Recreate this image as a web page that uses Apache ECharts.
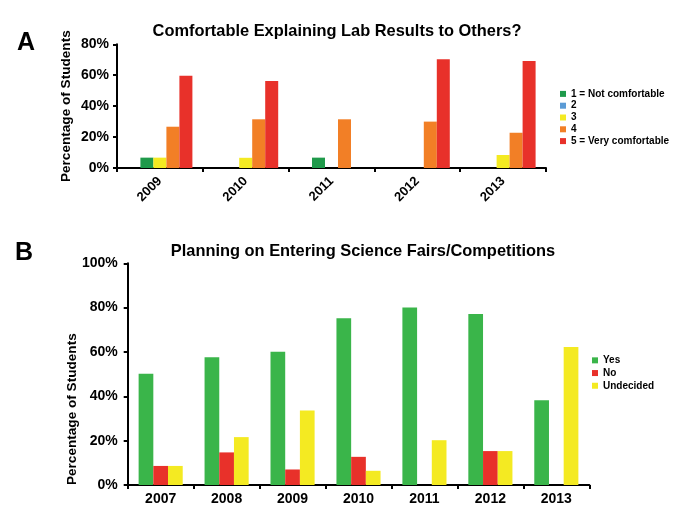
<!DOCTYPE html>
<html><head><meta charset="utf-8">
<script src="https://cdn.jsdelivr.net/npm/echarts@6/dist/echarts.min.js"></script>
<style>html,body{margin:0;padding:0;background:#fff}#c{width:684px;height:515px}</style>
</head><body><div id="c"></div>
<script>
// Chart A data
const yearsA = ['2009','2010','2011','2012','2013'];
const a1 = [6.7, 0, 6.7, 0, 0];        // 1 = Not comfortable
const a2 = [0, 0, 0, 0, 0];            // 2
const a3 = [6.7, 6.6, 0, 0, 8.4];      // 3
const a4 = [26.7, 31.5, 31.5, 30, 22.8]; // 4
const a5 = [59.6, 56.3, 0, 70.3, 69.2];  // 5 = Very comfortable
const namesA = ['1 = Not comfortable','2','3','4','5 = Very comfortable'];
const ticksA = [0, 20, 40, 60, 80];
// Chart B data
const yearsB = ['2007','2008','2009','2010','2011','2012','2013'];
const bYes = [50.2, 57.6, 60.1, 75.2, 80.1, 77.1, 38.2];
const bNo = [8.6, 14.7, 7.0, 12.7, 0, 15.3, 0];
const bUnd = [8.6, 21.6, 33.6, 6.4, 20.2, 15.3, 62.2];
const namesB = ['Yes','No','Undecided'];
const ticksB = [0, 20, 40, 60, 80, 100];

const FF = "'Liberation Sans', Arial, sans-serif";
const axisLine = {show:true, lineStyle:{color:'#000', width:2}};
const axisTick = {show:true, inside:false, length:4, lineStyle:{color:'#000', width:2}};
const chart = echarts.init(document.getElementById('c'));
chart.setOption({
  animation:false,
  backgroundColor:'#fff',
  graphic:[
    {type:'text', left:17, top:31, style:{text:'A', font:'bold 25px '+FF, fill:'#000'}},
    {type:'text', left:15, top:241, style:{text:'B', font:'bold 25px '+FF, fill:'#000'}},
    {type:'text', x:337, y:31, style:{text:'Comfortable Explaining Lab Results to Others?', font:'bold 16.4px '+FF, fill:'#000', textAlign:'center', textVerticalAlign:'middle'}},
    {type:'text', x:363, y:251, style:{text:'Planning on Entering Science Fairs/Competitions', font:'bold 16.4px '+FF, fill:'#000', textAlign:'center', textVerticalAlign:'middle'}}
  ],
  legend:[
    {data:namesA, orient:'vertical', left:555, top:83, itemWidth:6, itemHeight:6, itemGap:0, icon:'rect',
     textStyle:{fontFamily:FF, fontWeight:'bold', fontSize:10, color:'#000', lineHeight:11.8}},
    {data:namesB, orient:'vertical', left:587, top:349, itemWidth:6, itemHeight:6, itemGap:0, icon:'rect',
     textStyle:{fontFamily:FF, fontWeight:'bold', fontSize:10, color:'#000', lineHeight:12.7}}
  ],
  grid:[
    {left:117, right:138, top:44.3, bottom:347},
    {left:127.7, right:94.7, top:263.3, bottom:30}
  ],
  xAxis:[
    {type:'category', gridIndex:0, data:yearsA, axisLine:axisLine, axisTick:axisTick,
     axisLabel:{rotate:45, fontFamily:FF, fontWeight:'bold', fontSize:13, color:'#000', margin:11}},
    {type:'category', gridIndex:1, data:yearsB, axisLine:axisLine, axisTick:axisTick,
     axisLabel:{fontFamily:FF, fontWeight:'bold', fontSize:14, color:'#000', margin:7}}
  ],
  yAxis:[
    {type:'value', gridIndex:0, min:ticksA[0], max:ticksA[ticksA.length-1], interval:20,
     axisLine:axisLine, axisTick:axisTick, splitLine:{show:false},
     axisLabel:{formatter:'{value}%', fontFamily:FF, fontWeight:'bold', fontSize:14, color:'#000', margin:8},
     name:'Percentage of Students', nameLocation:'middle', nameGap:44, nameMoveOverlap:false,
     nameTextStyle:{fontFamily:FF, fontWeight:'bold', fontSize:13.6, color:'#000'}},
    {type:'value', gridIndex:1, min:ticksB[0], max:ticksB[ticksB.length-1], interval:20,
     axisLine:axisLine, axisTick:axisTick, splitLine:{show:false},
     axisLabel:{formatter:'{value}%', fontFamily:FF, fontWeight:'bold', fontSize:14, color:'#000', margin:10},
     name:'Percentage of Students', nameLocation:'middle', nameGap:48, nameMoveOverlap:false,
     nameTextStyle:{fontFamily:FF, fontWeight:'bold', fontSize:13.6, color:'#000', padding:[0,70,0,0]}}
  ],
  series:[
    {name:namesA[1], type:'bar', xAxisIndex:0, yAxisIndex:0, data:a2, barWidth:13, barGap:'0%', itemStyle:{color:'#5b9bd5'}},
    {name:namesA[0], type:'bar', xAxisIndex:0, yAxisIndex:0, data:a1, barWidth:13, barGap:'0%', itemStyle:{color:'#1f9a4b'}},
    {name:namesA[2], type:'bar', xAxisIndex:0, yAxisIndex:0, data:a3, barWidth:13, barGap:'0%', itemStyle:{color:'#f4ea22'}},
    {name:namesA[3], type:'bar', xAxisIndex:0, yAxisIndex:0, data:a4, barWidth:13, barGap:'0%', itemStyle:{color:'#f27f26'}},
    {name:namesA[4], type:'bar', xAxisIndex:0, yAxisIndex:0, data:a5, barWidth:13, barGap:'0%', itemStyle:{color:'#e8312a'}},
    {name:namesB[0], type:'bar', xAxisIndex:1, yAxisIndex:1, data:bYes, barWidth:14.7, barGap:'0%', itemStyle:{color:'#3ab54a'}},
    {name:namesB[1], type:'bar', xAxisIndex:1, yAxisIndex:1, data:bNo, barWidth:14.7, barGap:'0%', itemStyle:{color:'#e8312a'}},
    {name:namesB[2], type:'bar', xAxisIndex:1, yAxisIndex:1, data:bUnd, barWidth:14.7, barGap:'0%', itemStyle:{color:'#f4ea22'}}
  ]
});
</script></body></html>
